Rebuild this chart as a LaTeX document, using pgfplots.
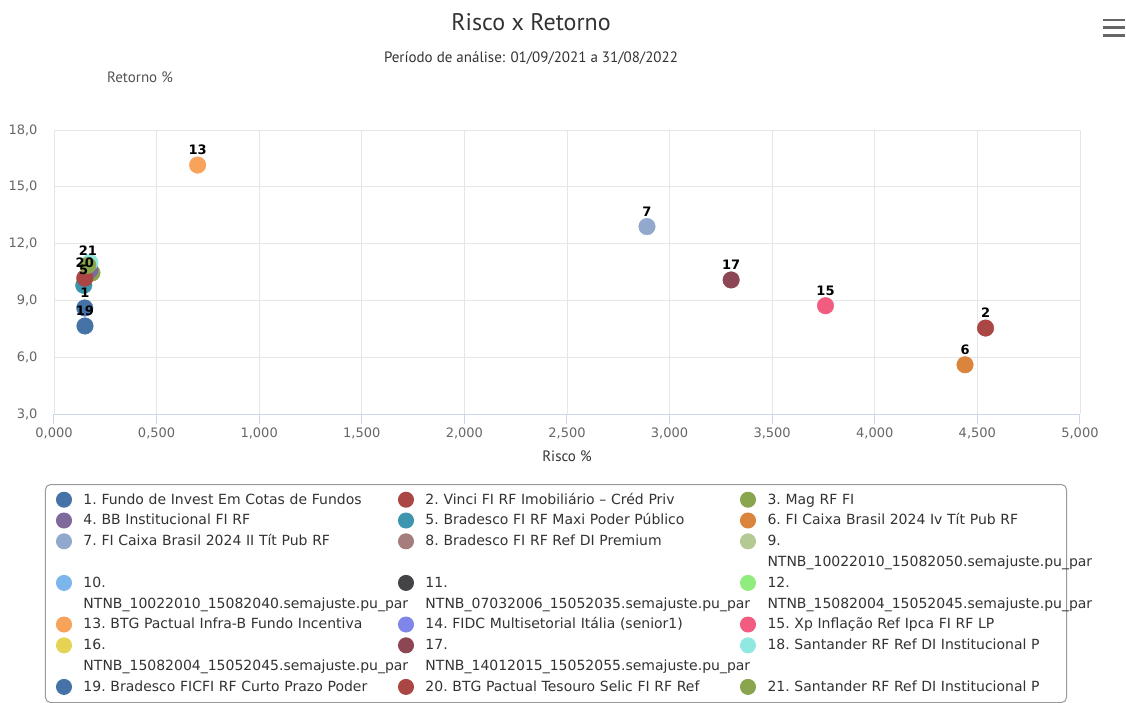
\documentclass[border=0pt]{standalone}
\usepackage{pgfplots}
\pgfplotsset{compat=1.18}
\usepackage{fontspec}
\setmainfont{DejaVu Sans}
\newfontfamily\ptsans{PT Sans}
\definecolor{c1}{HTML}{4572A7}
\definecolor{c2}{HTML}{AA4643}
\definecolor{c3}{HTML}{89A54E}
\definecolor{c4}{HTML}{80699B}
\definecolor{c5}{HTML}{3D96AE}
\definecolor{c6}{HTML}{DB843D}
\definecolor{c7}{HTML}{92A8CD}
\definecolor{c8}{HTML}{A47D7C}
\definecolor{c9}{HTML}{B5CA92}
\definecolor{c10}{HTML}{7CB5EC}
\definecolor{c11}{HTML}{434348}
\definecolor{c12}{HTML}{90ED7D}
\definecolor{c13}{HTML}{F7A35C}
\definecolor{c14}{HTML}{8085E9}
\definecolor{c15}{HTML}{F15C80}
\definecolor{c16}{HTML}{E4D354}
\definecolor{c17}{HTML}{8D4653}
\definecolor{c18}{HTML}{91E8E1}
\definecolor{gridc}{HTML}{E6E6E6}
\definecolor{axisc}{HTML}{CCD6EB}
\definecolor{tickc}{HTML}{666666}
\definecolor{txt}{HTML}{333333}
\definecolor{legborder}{HTML}{999999}
\newcommand{\lt}[1]{\mbox{#1}}
\begin{document}
\begin{tikzpicture}
\useasboundingbox (-54pt,-288pt) rectangle (1072pt,414pt);
\begin{axis}[
  at={(0pt,0pt)}, anchor=south west,
  scale only axis, width=1026pt, height=284pt,
  xmin=0, xmax=5, ymin=3, ymax=18,
  xtick={0,0.5,1,1.5,2,2.5,3,3.5,4,4.5,5}, ytick={3,6,9,12,15,18},
  axis x line*=bottom, axis y line*=left,
  x axis line style={draw=axisc, line width=1pt},
  y axis line style={draw=none},
  grid=major, major grid style={draw=gridc, line width=0.8pt},
  tick align=outside,
  xtick style={draw=axisc, line width=1pt},
  major tick length=10pt,
  ytick style={draw=none},
  tick label style={font=\fontsize{13}{13}\selectfont, text=tickc},
  yticklabel style={xshift=-3pt},
  /pgf/number format/assume math mode=true,
  xticklabel style={/pgf/number format/.cd, fixed, fixed zerofill, precision=3, use comma},
  yticklabel style={/pgf/number format/.cd, fixed, fixed zerofill, precision=1, use comma},
  scaled ticks=false,
  xlabel={Risco \%},
  xlabel style={at={(axis description cs:0.5,-0.148)}, anchor=center, font=\ptsans\fontsize{15}{15}\selectfont, text=txt},
  legend columns=3,
  legend image code/.code={\path (0pt,0pt) (28pt,0pt); \fill[#1] (9pt,4.3pt) circle[radius=7.5pt];},
  legend style={
    at={(-0.008772,-0.246479)}, anchor=north west,
    draw=legborder, rounded corners=5pt, line width=1pt,
    inner xsep=9pt, inner ysep=5pt, row sep=0pt, column sep=0pt,
    font=\fontsize{14}{20.8}\selectfont\frenchspacing, text=txt,
    cells={anchor=base west},
    nodes={inner sep=0pt, text width=290pt, align=left, anchor=base west, text height=14.5pt, text depth=6.3pt},
    /tikz/every even column/.append style={column sep=23pt},
  },
]
% row 1
\addplot[only marks, mark=*, mark size=8.3pt, color=c1] coordinates {(0.15,8.6)};
\addlegendentry{\lt{1. Fundo de Invest Em Cotas de Fundos}}
\addplot[only marks, mark=*, mark size=8.3pt, color=c2] coordinates {(4.54,7.54)};
\addlegendentry{\lt{2. Vinci FI RF Imobiliário – Créd Priv}}
\addplot[only marks, mark=*, mark size=8.3pt, color=c3] coordinates {(0.185,10.45)};
\addlegendentry{\lt{3. Mag RF FI}}
% row 2
\addplot[only marks, mark=*, mark size=8.3pt, color=c4] coordinates {(0.175,10.6)};
\addlegendentry{\lt{4. BB Institucional FI RF}}
\addplot[only marks, mark=*, mark size=8.3pt, color=c5] coordinates {(0.145,9.8)};
\addlegendentry{\lt{5. Bradesco FI RF Maxi Poder Público}}
\addplot[only marks, mark=*, mark size=8.3pt, color=c6] coordinates {(4.44,5.6)};
\addlegendentry{\lt{6. FI Caixa Brasil 2024 Iv Tít Pub RF}}
% row 3
\addplot[only marks, mark=*, mark size=8.3pt, color=c7] coordinates {(2.89,12.9)};
\addlegendentry{\lt{7. FI Caixa Brasil 2024 II Tít Pub RF}}
\addlegendimage{only marks, mark=*, color=c8}
\addlegendentry{\lt{8. Bradesco FI RF Ref DI Premium}}
\addlegendimage{only marks, mark=*, color=c9}
\addlegendentry{\lt{9.}}
% row 3b
\addlegendimage{empty legend}
\addlegendentry{}
\addlegendimage{empty legend}
\addlegendentry{}
\addlegendimage{empty legend}
\addlegendentry{\lt{NTNB\_10022010\_15082050.semajuste.pu\_par}}
% row 4
\addlegendimage{only marks, mark=*, color=c10}
\addlegendentry{\lt{10.}}
\addlegendimage{only marks, mark=*, color=c11}
\addlegendentry{\lt{11.}}
\addlegendimage{only marks, mark=*, color=c12}
\addlegendentry{\lt{12.}}
% row 4b
\addlegendimage{empty legend}
\addlegendentry{\lt{NTNB\_10022010\_15082040.semajuste.pu\_par}}
\addlegendimage{empty legend}
\addlegendentry{\lt{NTNB\_07032006\_15052035.semajuste.pu\_par}}
\addlegendimage{empty legend}
\addlegendentry{\lt{NTNB\_15082004\_15052045.semajuste.pu\_par}}
% row 5
\addplot[only marks, mark=*, mark size=8.3pt, color=c13] coordinates {(0.70,16.15)};
\addlegendentry{\lt{13. BTG Pactual Infra-B Fundo Incentiva}}
\addlegendimage{only marks, mark=*, color=c14}
\addlegendentry{\lt{14. FIDC Multisetorial Itália (senior1)}}
\addplot[only marks, mark=*, mark size=8.3pt, color=c15] coordinates {(3.76,8.72)};
\addlegendentry{\lt{15. Xp Inflação Ref Ipca FI RF LP}}
% row 6
\addlegendimage{only marks, mark=*, color=c16}
\addlegendentry{\lt{16.}}
\addplot[only marks, mark=*, mark size=8.3pt, color=c17] coordinates {(3.30,10.08)};
\addlegendentry{\lt{17.}}
\addplot[only marks, mark=*, mark size=8.3pt, color=c18] coordinates {(0.175,11.0)};
\addlegendentry{\lt{18. Santander RF Ref DI Institucional P}}
% row 6b
\addlegendimage{empty legend}
\addlegendentry{\lt{NTNB\_15082004\_15052045.semajuste.pu\_par}}
\addlegendimage{empty legend}
\addlegendentry{\lt{NTNB\_14012015\_15052055.semajuste.pu\_par}}
\addlegendimage{empty legend}
\addlegendentry{}
% row 7
\addplot[only marks, mark=*, mark size=8.3pt, color=c1] coordinates {(0.151,7.65)};
\addlegendentry{\lt{19. Bradesco FICFI RF Curto Prazo Poder}}
\addplot[only marks, mark=*, mark size=8.3pt, color=c2] coordinates {(0.15,10.18)};
\addlegendentry{\lt{20. BTG Pactual Tesouro Selic FI RF Ref}}
\addplot[only marks, mark=*, mark size=8.3pt, color=c3] coordinates {(0.165,10.85)};
\addlegendentry{\lt{21. Santander RF Ref DI Institucional P}}
% data labels
\addplot[only marks, mark=none, forget plot, nodes near coords, point meta=explicit symbolic,
  every node near coord/.append style={font=\bfseries\fontsize{13}{13}\selectfont, text=black, anchor=south, yshift=9pt, inner sep=1pt}]
  table[meta=lab] {
x y lab
0.70 16.15 13
2.89 12.9 7
3.30 10.08 17
3.76 8.72 15
4.54 7.54 2
4.44 5.6 6
0.165 10.85 21
0.15 10.18 20
0.145 9.8 5
0.15 8.6 1
0.151 7.65 19
};
\end{axis}
\node[font=\ptsans\fontsize{24}{24}\selectfont, text=txt] at (477pt,392pt) {Risco x Retorno};
\node[font=\ptsans\fontsize{15}{15}\selectfont, text=txt] at (477pt,356pt) {Período de análise: 01/09/2021 a 31/08/2022};
\node[font=\ptsans\fontsize{15}{15}\selectfont, text=txt!85] at (86pt,337pt) {Retorno \%};
\fill[tickc] (1049pt,392.7pt) rectangle (1071pt,395.4pt);
\fill[tickc] (1049pt,385pt) rectangle (1071pt,387.7pt);
\fill[tickc] (1049pt,377.3pt) rectangle (1071pt,380pt);
\end{tikzpicture}
\end{document}
